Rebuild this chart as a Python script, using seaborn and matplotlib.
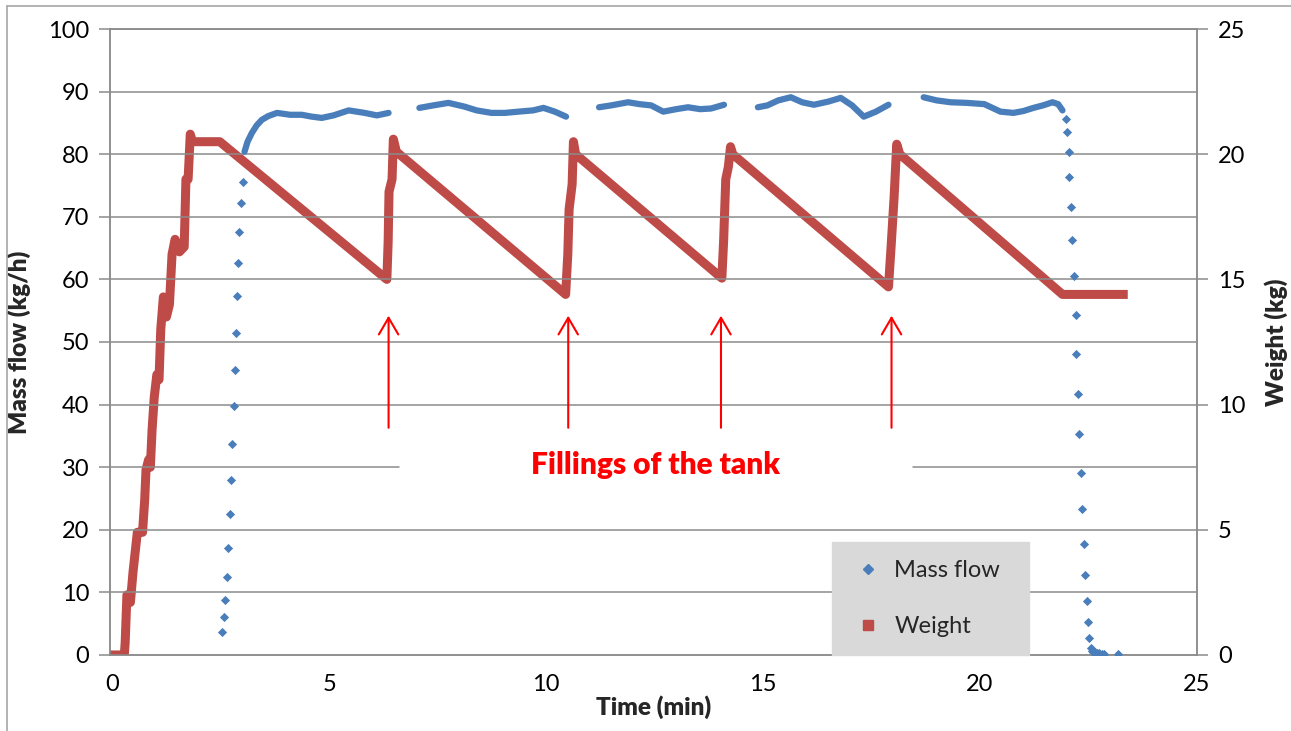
import matplotlib
matplotlib.use("Agg")
import matplotlib.pyplot as plt
import seaborn as sns
from matplotlib.lines import Line2D

sns.set_style("white")
plt.rcParams['font.family'] = ['Lato', 'DejaVu Sans']

BLUE = '#4A7EBB'
RED = '#BE4B48'
GRID = '#8C8C8C'

# Mass flow (kg/h): start-up ramp, five plateaus, shut-down ramp
mf_up_t = [2.53, 2.58, 2.60, 2.64, 2.67, 2.71, 2.74, 2.76, 2.81, 2.83, 2.85, 2.87, 2.90, 2.93, 2.97, 3.01]
mf_up_v = [3.7, 6.0, 8.8, 12.5, 17.1, 22.5, 28.0, 33.7, 39.8, 45.5, 51.5, 57.3, 62.7, 67.6, 72.2, 75.6]

seg1_t = [3.05, 3.12, 3.22, 3.33, 3.45, 3.6, 3.8, 4.1, 4.37, 4.6, 4.83, 5.1, 5.45, 5.82, 6.1, 6.37]
seg1_v = [80.4, 82.0, 83.4, 84.6, 85.5, 86.1, 86.6, 86.3, 86.3, 86.0, 85.8, 86.2, 87.0, 86.6, 86.2, 86.6]
seg2_t = [7.08, 7.4, 7.75, 8.12, 8.4, 8.74, 9.05, 9.36, 9.7, 9.94, 10.2, 10.46]
seg2_v = [87.4, 87.8, 88.2, 87.6, 87.0, 86.6, 86.6, 86.8, 87.0, 87.4, 86.8, 86.0]
seg3_t = [11.22, 11.5, 11.89, 12.15, 12.42, 12.7, 13.0, 13.27, 13.55, 13.8, 14.1]
seg3_v = [87.5, 87.8, 88.3, 88.0, 87.8, 86.8, 87.2, 87.5, 87.2, 87.3, 87.9]
seg4_t = [14.88, 15.1, 15.35, 15.64, 15.9, 16.17, 16.5, 16.79, 17.05, 17.32, 17.6, 17.89]
seg4_v = [87.5, 87.8, 88.6, 89.1, 88.3, 87.9, 88.4, 89.0, 87.8, 86.0, 86.8, 87.9]
seg5_t = [18.7, 19.0, 19.32, 19.7, 20.1, 20.47, 20.77, 21.0, 21.23, 21.45, 21.67, 21.8, 21.9]
seg5_v = [89.1, 88.6, 88.3, 88.2, 88.0, 86.8, 86.6, 86.9, 87.4, 87.8, 88.3, 88.0, 87.0]

mf_dn_t = [21.97, 22.0, 22.04, 22.06, 22.09, 22.12, 22.16, 22.2, 22.22, 22.26, 22.29, 22.32, 22.35,
           22.4, 22.43, 22.46, 22.49, 22.52, 22.55, 22.58, 22.61, 22.65, 22.7, 22.75, 22.8, 22.85, 23.17]
mf_dn_v = [85.6, 83.5, 80.4, 76.4, 71.6, 66.3, 60.5, 54.3, 48.1, 41.7, 35.3, 29.1, 23.3,
           17.7, 12.8, 8.6, 5.3, 2.7, 1.1, 0.7, 0.5, 0.4, 0.3, 0.3, 0.2, 0.1, 0.1]

# Weight (kg) in the tank
w_t = [0.0, 0.28, 0.30, 0.34, 0.42, 0.48, 0.58, 0.70, 0.75, 0.78, 0.84, 0.88, 0.92, 0.97, 1.03, 1.08,
       1.12, 1.18, 1.25, 1.32, 1.38, 1.45, 1.55, 1.66, 1.70, 1.75, 1.80, 1.85, 2.48, 6.33,
       6.36, 6.38, 6.45, 6.48, 6.55, 10.45, 10.50, 10.53, 10.60, 10.63, 10.68, 14.05, 14.09, 14.14,
       14.20, 14.25, 14.30, 17.89, 17.95, 18.02, 18.08, 18.15, 21.9, 23.3]
w_kg = [0.0, 0.0, 0.5, 2.4, 2.1, 3.3, 4.9, 4.9, 6.2, 7.4, 7.8, 7.5, 9.0, 10.3, 11.2, 11.0,
        13.0, 14.3, 13.5, 14.0, 16.0, 16.6, 16.1, 16.3, 19.0, 19.0, 20.8, 20.5, 20.5, 15.0,
        16.5, 18.5, 19.0, 20.6, 20.1, 14.4, 16.0, 17.8, 18.8, 20.5, 20.0, 15.05, 16.5, 19.0,
        19.5, 20.3, 20.0, 14.7, 16.3, 18.3, 20.4, 20.0, 14.4, 14.4]

arrow_t = [6.37, 10.51, 14.03, 17.96]

fig, ax = plt.subplots(figsize=(12.91, 7.31), dpi=100)
fig.subplots_adjust(left=0.0852, right=0.9272, bottom=0.104, top=0.9603)
ax2 = ax.twinx()

# mass flow
sns.scatterplot(x=mf_up_t, y=mf_up_v, marker='D', s=22, color=BLUE, edgecolor=BLUE,
                linewidth=0, ax=ax, zorder=4)
sns.scatterplot(x=mf_dn_t, y=mf_dn_v, marker='D', s=22, color=BLUE, edgecolor=BLUE,
                linewidth=0, ax=ax, zorder=4)
for st, sv in [(seg1_t, seg1_v), (seg2_t, seg2_v), (seg3_t, seg3_v),
               (seg4_t, seg4_v), (seg5_t, seg5_v)]:
    sns.lineplot(x=st, y=sv, color=BLUE, linewidth=4.5, ax=ax, sort=False,
                 estimator=None, zorder=4, solid_capstyle='round', solid_joinstyle='round')

# weight
sns.lineplot(x=w_t, y=w_kg, color=RED, linewidth=6.5, ax=ax2, sort=False,
             estimator=None, zorder=3, solid_capstyle='projecting', solid_joinstyle='round')

ax.set_xlim(-0.05, 25)
ax.set_ylim(0, 100)
ax2.set_ylim(0, 25)
ax.set_xticks(range(0, 26, 5))
ax.set_yticks(range(0, 101, 10))
ax2.set_yticks(range(0, 26, 5))

# grid drawn by hand so the 30 line can leave room for the caption
for yv in range(10, 101, 10):
    if yv == 30:
        ax.plot([-0.05, 6.62], [30, 30], color=GRID, lw=1.1, zorder=1)
        ax.plot([18.45, 25], [30, 30], color=GRID, lw=1.1, zorder=1)
    else:
        ax.axhline(yv, color=GRID, lw=1.1, zorder=1)

for a in (ax, ax2):
    for sp in a.spines.values():
        sp.set_color(GRID)
        sp.set_linewidth(1.1)
ax.set_zorder(ax2.get_zorder() + 1)
ax.patch.set_visible(False)

ax.tick_params(axis='both', direction='out', color=GRID, width=1.1, labelsize=17,
               labelcolor='black')
ax.tick_params(axis='y', length=8, pad=7)
ax.tick_params(axis='x', length=5, pad=9)
ax2.tick_params(axis='y', direction='out', color=GRID, width=1.1, length=8, pad=7,
                labelsize=17, labelcolor='black')

ax.set_xlabel('Time (min)', fontsize=17.5, fontweight='heavy', labelpad=0)
ax.set_ylabel('Mass flow (kg/h)', fontsize=17.5, fontweight='heavy', labelpad=12)
ax2.set_ylabel('Weight (kg)', fontsize=17.5, fontweight='heavy', labelpad=14)

# arrows and caption
for at in arrow_t:
    ax.annotate('', xy=(at, 54.2), xytext=(at, 36.3),
                arrowprops=dict(arrowstyle='->,head_length=0.6,head_width=0.35',
                                color='red', lw=1.5, mutation_scale=20,
                                shrinkA=0, shrinkB=0), zorder=5)
ax.text(12.53, 30.4, 'Fillings of the tank', color='red', fontsize=21.5,
        fontweight='heavy', ha='center', va='center', zorder=5)

# legend
handles = [Line2D([], [], marker='D', linestyle='none', color=BLUE, markersize=5),
           Line2D([], [], marker='s', linestyle='none', color=RED, markersize=7)]
leg = ax.legend(handles, ['Mass flow', 'Weight'], loc='lower left',
                bbox_to_anchor=(0.664, 0.0, 0.181, 0.182), mode='expand',
                borderaxespad=0, fontsize=17, frameon=True, fancybox=False,
                facecolor='#D9D9D9', edgecolor='#D9D9D9', framealpha=1,
                labelspacing=1.5, borderpad=0.75, handlelength=1.6, handletextpad=0.3)
leg.set_zorder(6)

# outer chart border
fig.add_artist(Line2D([7 / 1291, 7 / 1291], [0, 1 - 6 / 731], color='#A6A6A6', lw=1.2))
fig.add_artist(Line2D([7 / 1291, 1], [1 - 6 / 731, 1 - 6 / 731], color='#A6A6A6', lw=1.2))

fig.savefig('out.png', dpi=100)
